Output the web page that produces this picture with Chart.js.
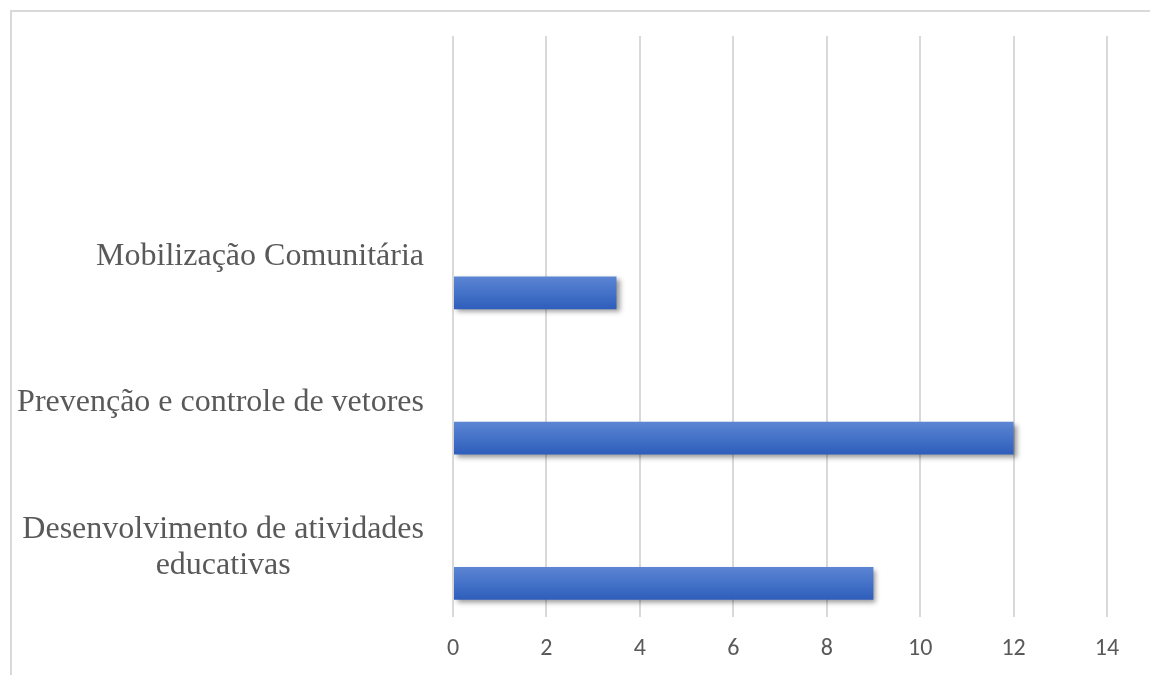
<!DOCTYPE html>
<html lang="pt">
<head>
<meta charset="UTF-8">
<title>Atividades</title>
<script src="https://cdn.jsdelivr.net/npm/chart.js"></script>
<style>
    html, body {
        margin: 0;
        padding: 0;
        background: #fff;
        overflow: hidden;
    }
    .frame {
        position: absolute;
        left: 10px;
        top: 10px;
        width: 1200px;
        height: 700px;
        border: 2px solid #d9d9d9;
        box-sizing: border-box;
    }
    .chart-box {
        position: absolute;
        left: 0;
        top: 0;
        width: 1150px;
        height: 675px;
    }
</style>
</head>
<body>
<div class="frame"></div>
<div class="chart-box">
    <canvas id="chart" width="1150" height="675"></canvas>
</div>
<script>
// categorias de cima para baixo
const categories = [
    '',
    'Mobilização Comunitária',
    'Prevenção e controle de vetores',
    ['Desenvolvimento de atividades', 'educativas']
];
const emptySeries = [null, null, null, null];
const values = [null, 3.5, 12, 9];
const xTicks = [0, 2, 4, 6, 8, 10, 12, 14];

const LABEL_FONT = '32px "Liberation Serif", "Times New Roman", serif';

// gradiente + sombra nas barras
const barStyle = {
    id: 'barStyle',
    beforeDatasetDraw(chart, args) {
        const ctx = chart.ctx;
        args.meta.data.forEach(el => {
            if (!el || el.skip) return;
            const h = el.height;
            const g = ctx.createLinearGradient(0, el.y - h / 2, 0, el.y + h / 2);
            g.addColorStop(0, '#5d85d3');
            g.addColorStop(0.5, '#4472c8');
            g.addColorStop(1, '#2e5dbb');
            el.options = Object.assign({}, el.options, {backgroundColor: g});
        });
        ctx.save();
        ctx.shadowColor = 'rgba(0,0,0,0.4)';
        ctx.shadowBlur = 5;
        ctx.shadowOffsetX = 3;
        ctx.shadowOffsetY = 3;
    },
    afterDatasetDraw(chart) {
        chart.ctx.restore();
    }
};

// rótulos das categorias: bloco alinhado à direita, linhas centradas
const categoryLabels = {
    id: 'categoryLabels',
    afterDraw(chart) {
        const ctx = chart.ctx;
        const yScale = chart.scales.y;
        const right = chart.chartArea.left - 29;
        const lineH = 36;
        ctx.save();
        ctx.font = LABEL_FONT;
        ctx.fillStyle = '#595959';
        ctx.textAlign = 'center';
        ctx.textBaseline = 'middle';
        categories.forEach((lab, i) => {
            const lines = Array.isArray(lab) ? lab : [lab];
            const w = Math.max(...lines.map(l => ctx.measureText(l).width));
            const cx = right - w / 2;
            const cy = yScale.getPixelForTick(i) + 3;
            lines.forEach((l, j) => {
                ctx.fillText(l, cx, cy + (j - (lines.length - 1) / 2) * lineH);
            });
        });
        ctx.restore();
    }
};

new Chart(document.getElementById('chart'), {
    type: 'bar',
    data: {
        labels: categories,
        datasets: [{
            label: 'vazio',
            data: emptySeries
        }, {
            label: 'Atividades',
            data: values,
            backgroundColor: '#4472c4'
        }]
    },
    options: {
        indexAxis: 'y',
        responsive: false,
        animation: false,
        categoryPercentage: 1.074,
        barPercentage: 0.423,
        layout: {
            padding: {top: 36, right: 43, bottom: 0, left: 0}
        },
        plugins: {
            legend: {display: false},
            tooltip: {enabled: false}
        },
        scales: {
            x: {
                min: 0,
                max: 14,
                afterBuildTicks(axis) {
                    axis.ticks = xTicks.map(v => ({value: v}));
                },
                afterFit(axis) {
                    axis.height = 58;
                    axis.paddingLeft = 0;
                    axis.paddingRight = 0;
                },
                grid: {
                    color: '#d9d9d9',
                    lineWidth: 2,
                    drawTicks: false
                },
                border: {display: false},
                ticks: {
                    padding: 18,
                    color: '#595959',
                    font: {family: 'Carlito, "Open Sans", sans-serif', size: 24}
                }
            },
            y: {
                afterFit(axis) {
                    axis.width = 453;
                    axis.paddingTop = 0;
                    axis.paddingBottom = 0;
                },
                grid: {display: false, drawTicks: false},
                border: {display: false},
                ticks: {display: false}
            }
        }
    },
    plugins: [barStyle, categoryLabels]
});
</script>
</body>
</html>
